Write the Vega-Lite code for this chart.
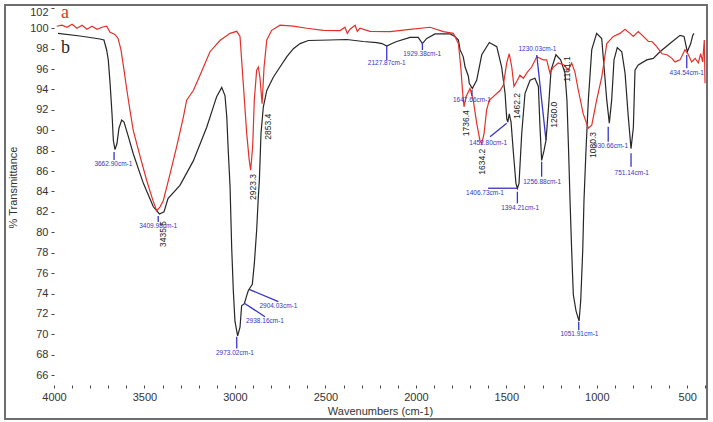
{
  "$schema": "https://vega.github.io/schema/vega-lite/v6.json",
  "width": 702,
  "height": 414,
  "autosize": {"type": "none"},
  "padding": {"left": 5, "top": 5, "right": 6, "bottom": 3},
  "background": "white",
  "config": {"view": {"stroke": "#6e6e6e", "strokeWidth": 2}, "axis": {"labelOverlap": false, "labelSeparation": 0, "labelFlush": false, "labelBound": false}},
  "datasets": {
    "spectra": [
      {"s":"b","wn":3978,"T":99.5},{"s":"b","wn":3856,"T":99.24},{"s":"b","wn":3746,"T":98.95},{"s":"b","wn":3724,"T":98.85},{"s":"b","wn":3709,"T":97.87},{"s":"b","wn":3700,"T":96.9},{"s":"b","wn":3690,"T":94.6},{"s":"b","wn":3679,"T":91.5},{"s":"b","wn":3672,"T":89.0},{"s":"b","wn":3663,"T":88.1},{"s":"b","wn":3652,"T":88.7},{"s":"b","wn":3641,"T":90.2},{"s":"b","wn":3626,"T":91.0},{"s":"b","wn":3613,"T":90.8},{"s":"b","wn":3591,"T":89.5},{"s":"b","wn":3562,"T":87.7},{"s":"b","wn":3506,"T":84.8},{"s":"b","wn":3451,"T":82.5},{"s":"b","wn":3417,"T":81.8},{"s":"b","wn":3392,"T":82.0},{"s":"b","wn":3370,"T":83.3},{"s":"b","wn":3304,"T":84.6},{"s":"b","wn":3230,"T":87.0},{"s":"b","wn":3156,"T":90.3},{"s":"b","wn":3101,"T":93.3},{"s":"b","wn":3073,"T":94.2},{"s":"b","wn":3055,"T":93.4},{"s":"b","wn":3045,"T":91.3},{"s":"b","wn":3037,"T":88.0},{"s":"b","wn":3027,"T":84.5},{"s":"b","wn":3018,"T":78.5},{"s":"b","wn":3009,"T":74.3},{"s":"b","wn":3000,"T":71.3},{"s":"b","wn":2985,"T":69.84},{"s":"b","wn":2972,"T":70.7},{"s":"b","wn":2963,"T":72.8},{"s":"b","wn":2948,"T":73.0},{"s":"b","wn":2935,"T":73.8},{"s":"b","wn":2926,"T":74.3},{"s":"b","wn":2904,"T":74.9},{"s":"b","wn":2893,"T":76.9},{"s":"b","wn":2880,"T":80.2},{"s":"b","wn":2871,"T":83.4},{"s":"b","wn":2865,"T":85.1},{"s":"b","wn":2856,"T":89.7},{"s":"b","wn":2843,"T":92.3},{"s":"b","wn":2824,"T":93.9},{"s":"b","wn":2788,"T":95.2},{"s":"b","wn":2751,"T":96.2},{"s":"b","wn":2714,"T":97.2},{"s":"b","wn":2677,"T":98.0},{"s":"b","wn":2640,"T":98.5},{"s":"b","wn":2594,"T":98.8},{"s":"b","wn":2475,"T":98.85},{"s":"b","wn":2382,"T":98.9},{"s":"b","wn":2291,"T":98.7},{"s":"b","wn":2216,"T":98.6},{"s":"b","wn":2187,"T":98.5},{"s":"b","wn":2161,"T":98.26},{"s":"b","wn":2132,"T":98.5},{"s":"b","wn":2106,"T":98.7},{"s":"b","wn":2032,"T":99.1},{"s":"b","wn":1987,"T":99.1},{"s":"b","wn":1964,"T":98.5},{"s":"b","wn":1940,"T":99.0},{"s":"b","wn":1894,"T":99.44},{"s":"b","wn":1811,"T":99.44},{"s":"b","wn":1784,"T":99.2},{"s":"b","wn":1765,"T":98.85},{"s":"b","wn":1756,"T":97.9},{"s":"b","wn":1738,"T":97.2},{"s":"b","wn":1728,"T":96.2},{"s":"b","wn":1710,"T":95.3},{"s":"b","wn":1705,"T":94.6},{"s":"b","wn":1688,"T":94.1},{"s":"b","wn":1664,"T":94.9},{"s":"b","wn":1636,"T":97.4},{"s":"b","wn":1594,"T":98.6},{"s":"b","wn":1553,"T":98.2},{"s":"b","wn":1526,"T":96.2},{"s":"b","wn":1507,"T":93.6},{"s":"b","wn":1498,"T":91.15},{"s":"b","wn":1492,"T":90.8},{"s":"b","wn":1484,"T":91.6},{"s":"b","wn":1474,"T":90.8},{"s":"b","wn":1462,"T":88.0},{"s":"b","wn":1447,"T":84.8},{"s":"b","wn":1439,"T":84.3},{"s":"b","wn":1430,"T":84.8},{"s":"b","wn":1415,"T":89.7},{"s":"b","wn":1397,"T":93.6},{"s":"b","wn":1369,"T":94.9},{"s":"b","wn":1342,"T":95.1},{"s":"b","wn":1323,"T":94.3},{"s":"b","wn":1314,"T":90.3},{"s":"b","wn":1305,"T":87.05},{"s":"b","wn":1292,"T":88.0},{"s":"b","wn":1281,"T":89.0},{"s":"b","wn":1268,"T":92.0},{"s":"b","wn":1253,"T":95.9},{"s":"b","wn":1226,"T":97.4},{"s":"b","wn":1200,"T":96.9},{"s":"b","wn":1176,"T":95.6},{"s":"b","wn":1165,"T":92.9},{"s":"b","wn":1156,"T":88.0},{"s":"b","wn":1148,"T":83.1},{"s":"b","wn":1139,"T":78.2},{"s":"b","wn":1130,"T":73.9},{"s":"b","wn":1115,"T":72.3},{"s":"b","wn":1098,"T":71.3},{"s":"b","wn":1089,"T":73.3},{"s":"b","wn":1078,"T":78.2},{"s":"b","wn":1071,"T":83.1},{"s":"b","wn":1060,"T":88.0},{"s":"b","wn":1047,"T":92.95},{"s":"b","wn":1028,"T":97.9},{"s":"b","wn":1001,"T":99.5},{"s":"b","wn":973,"T":99.0},{"s":"b","wn":960,"T":96.2},{"s":"b","wn":945,"T":92.95},{"s":"b","wn":931,"T":90.7},{"s":"b","wn":918,"T":92.95},{"s":"b","wn":905,"T":96.9},{"s":"b","wn":887,"T":98.1},{"s":"b","wn":862,"T":97.7},{"s":"b","wn":844,"T":95.6},{"s":"b","wn":826,"T":91.3},{"s":"b","wn":811,"T":88.2},{"s":"b","wn":798,"T":90.3},{"s":"b","wn":789,"T":95.9},{"s":"b","wn":771,"T":96.4},{"s":"b","wn":724,"T":96.9},{"s":"b","wn":688,"T":97.05},{"s":"b","wn":651,"T":97.7},{"s":"b","wn":596,"T":98.5},{"s":"b","wn":540,"T":99.3},{"s":"b","wn":518,"T":99.2},{"s":"b","wn":500,"T":97.7},{"s":"b","wn":481,"T":98.5},{"s":"b","wn":470,"T":99.3},{"s":"b","wn":463,"T":99.5},
      {"s":"a","wn":3985,"T":100.2},{"s":"a","wn":3956,"T":100.3},{"s":"a","wn":3928,"T":100.1},{"s":"a","wn":3900,"T":100.4},{"s":"a","wn":3873,"T":100.0},{"s":"a","wn":3845,"T":100.3},{"s":"a","wn":3818,"T":99.9},{"s":"a","wn":3790,"T":100.2},{"s":"a","wn":3762,"T":99.9},{"s":"a","wn":3735,"T":100.1},{"s":"a","wn":3709,"T":100.2},{"s":"a","wn":3690,"T":99.6},{"s":"a","wn":3663,"T":99.4},{"s":"a","wn":3646,"T":99.0},{"s":"a","wn":3630,"T":97.9},{"s":"a","wn":3613,"T":95.9},{"s":"a","wn":3597,"T":93.9},{"s":"a","wn":3580,"T":91.96},{"s":"a","wn":3562,"T":90.0},{"s":"a","wn":3525,"T":87.5},{"s":"a","wn":3488,"T":85.1},{"s":"a","wn":3453,"T":83.1},{"s":"a","wn":3432,"T":82.1},{"s":"a","wn":3414,"T":82.5},{"s":"a","wn":3396,"T":83.1},{"s":"a","wn":3359,"T":85.7},{"s":"a","wn":3322,"T":88.4},{"s":"a","wn":3285,"T":91.3},{"s":"a","wn":3267,"T":92.95},{"s":"a","wn":3230,"T":93.9},{"s":"a","wn":3193,"T":95.4},{"s":"a","wn":3138,"T":97.7},{"s":"a","wn":3083,"T":98.8},{"s":"a","wn":3027,"T":99.5},{"s":"a","wn":2990,"T":99.7},{"s":"a","wn":2972,"T":99.2},{"s":"a","wn":2954,"T":94.6},{"s":"a","wn":2935,"T":89.7},{"s":"a","wn":2921,"T":87.05},{"s":"a","wn":2913,"T":86.1},{"s":"a","wn":2902,"T":88.4},{"s":"a","wn":2893,"T":92.95},{"s":"a","wn":2880,"T":95.9},{"s":"a","wn":2871,"T":96.2},{"s":"a","wn":2862,"T":95.2},{"s":"a","wn":2850,"T":92.6},{"s":"a","wn":2839,"T":96.2},{"s":"a","wn":2824,"T":98.85},{"s":"a","wn":2797,"T":99.8},{"s":"a","wn":2751,"T":100.3},{"s":"a","wn":2677,"T":100.2},{"s":"a","wn":2603,"T":100.0},{"s":"a","wn":2512,"T":99.8},{"s":"a","wn":2419,"T":99.77},{"s":"a","wn":2392,"T":100.1},{"s":"a","wn":2379,"T":99.5},{"s":"a","wn":2364,"T":99.9},{"s":"a","wn":2336,"T":100.3},{"s":"a","wn":2324,"T":99.7},{"s":"a","wn":2309,"T":100.0},{"s":"a","wn":2254,"T":99.7},{"s":"a","wn":2143,"T":99.67},{"s":"a","wn":2032,"T":99.9},{"s":"a","wn":1922,"T":100.1},{"s":"a","wn":1848,"T":99.67},{"s":"a","wn":1793,"T":99.5},{"s":"a","wn":1765,"T":98.5},{"s":"a","wn":1752,"T":96.2},{"s":"a","wn":1741,"T":93.6},{"s":"a","wn":1734,"T":92.3},{"s":"a","wn":1723,"T":93.3},{"s":"a","wn":1701,"T":94.1},{"s":"a","wn":1683,"T":92.95},{"s":"a","wn":1664,"T":90.7},{"s":"a","wn":1646,"T":89.0},{"s":"a","wn":1636,"T":88.7},{"s":"a","wn":1623,"T":89.7},{"s":"a","wn":1609,"T":92.0},{"s":"a","wn":1594,"T":92.95},{"s":"a","wn":1572,"T":93.3},{"s":"a","wn":1553,"T":93.6},{"s":"a","wn":1535,"T":93.9},{"s":"a","wn":1517,"T":94.4},{"s":"a","wn":1498,"T":96.6},{"s":"a","wn":1484,"T":97.5},{"s":"a","wn":1470,"T":96.2},{"s":"a","wn":1458,"T":94.3},{"s":"a","wn":1439,"T":94.9},{"s":"a","wn":1425,"T":95.4},{"s":"a","wn":1406,"T":95.1},{"s":"a","wn":1384,"T":95.7},{"s":"a","wn":1360,"T":96.2},{"s":"a","wn":1332,"T":97.2},{"s":"a","wn":1296,"T":96.9},{"s":"a","wn":1277,"T":96.9},{"s":"a","wn":1259,"T":95.6},{"s":"a","wn":1240,"T":96.2},{"s":"a","wn":1213,"T":96.6},{"s":"a","wn":1181,"T":96.4},{"s":"a","wn":1158,"T":95.9},{"s":"a","wn":1139,"T":96.6},{"s":"a","wn":1121,"T":95.7},{"s":"a","wn":1102,"T":93.9},{"s":"a","wn":1075,"T":91.6},{"s":"a","wn":1047,"T":90.2},{"s":"a","wn":1028,"T":90.5},{"s":"a","wn":1001,"T":92.95},{"s":"a","wn":973,"T":95.2},{"s":"a","wn":945,"T":98.5},{"s":"a","wn":909,"T":99.2},{"s":"a","wn":872,"T":99.5},{"s":"a","wn":844,"T":99.9},{"s":"a","wn":817,"T":99.5},{"s":"a","wn":798,"T":99.2},{"s":"a","wn":771,"T":99.67},{"s":"a","wn":743,"T":99.2},{"s":"a","wn":715,"T":98.7},{"s":"a","wn":695,"T":98.7},{"s":"a","wn":669,"T":98.2},{"s":"a","wn":640,"T":97.5},{"s":"a","wn":612,"T":97.4},{"s":"a","wn":585,"T":97.05},{"s":"a","wn":568,"T":96.7},{"s":"a","wn":540,"T":96.9},{"s":"a","wn":513,"T":97.9},{"s":"a","wn":494,"T":97.4},{"s":"a","wn":476,"T":96.7},{"s":"a","wn":457,"T":97.05},{"s":"a","wn":439,"T":96.6},{"s":"a","wn":426,"T":97.5},{"s":"a","wn":415,"T":96.7},{"s":"a","wn":406,"T":98.85},{"s":"a","wn":402,"T":94.6}
    ],
    "blueLabels": [
      {"wn":3672,"T":86.67,"text":"3662.90cm-1"},
      {"wn":3424,"T":80.62,"text":"3409.98cm-1"},
      {"wn":3000,"T":68.2,"text":"2973.02cm-1"},
      {"wn":2834,"T":71.33,"text":"2938.16cm-1"},
      {"wn":2760,"T":72.77,"text":"2904.03cm-1"},
      {"wn":2161,"T":96.57,"text":"2127.87cm-1"},
      {"wn":1965,"T":97.48,"text":"1929.38cm-1"},
      {"wn":1690,"T":92.97,"text":"1647.66cm-1"},
      {"wn":1600,"T":88.73,"text":"1452.80cm-1"},
      {"wn":1618,"T":83.82,"text":"1406.73cm-1"},
      {"wn":1424,"T":82.35,"text":"1394.21cm-1"},
      {"wn":1302,"T":84.96,"text":"1256.88cm-1"},
      {"wn":1328,"T":97.94,"text":"1230.03cm-1"},
      {"wn":1096,"T":70.0,"text":"1051.91cm-1"},
      {"wn":922,"T":88.46,"text":"930.66cm-1"},
      {"wn":807,"T":85.84,"text":"751.14cm-1"},
      {"wn":503,"T":95.65,"text":"434.54cm-1"}
    ],
    "blueLines": [
      {"wn":3668,"T":87.87,"wn2":3668,"T2":87.09},
      {"wn":3424,"T":81.6,"wn2":3424,"T2":81.0},
      {"wn":2990,"T":69.76,"wn2":2990,"T2":68.6},
      {"wn":2948,"T":73.04,"wn2":2834,"T2":71.73},
      {"wn":2922,"T":74.41,"wn2":2760,"T2":73.2},
      {"wn":2161,"T":98.26,"wn2":2161,"T2":96.9},
      {"wn":1964,"T":98.53,"wn2":1964,"T2":97.87},
      {"wn":1690,"T":93.95,"wn2":1690,"T2":93.36},
      {"wn":1590,"T":89.37,"wn2":1498,"T2":90.69},
      {"wn":1601,"T":84.32,"wn2":1441,"T2":84.32},
      {"wn":1439,"T":83.98,"wn2":1439,"T2":82.84},
      {"wn":1305,"T":86.92,"wn2":1305,"T2":85.45},
      {"wn":1332,"T":97.38,"wn2":1281,"T2":89.05},
      {"wn":1100,"T":71.24,"wn2":1100,"T2":70.4},
      {"wn":937,"T":90.35,"wn2":937,"T2":88.88},
      {"wn":811,"T":87.75,"wn2":811,"T2":86.43},
      {"wn":503,"T":97.38,"wn2":503,"T2":96.08}
    ],
    "peakLabels": [
      {"wn":3400,"T":79.83,"text":"3435.5"},
      {"wn":2902,"T":84.44,"text":"2923.3"},
      {"wn":2816,"T":90.35,"text":"2853.4"},
      {"wn":1723,"T":90.69,"text":"1736.4"},
      {"wn":1633,"T":86.92,"text":"1634.2"},
      {"wn":1443,"T":92.38,"text":"1462.2"},
      {"wn":1235,"T":91.53,"text":"1260.0"},
      {"wn":1166,"T":96.01,"text":"1161.1"},
      {"wn":1019,"T":88.56,"text":"1080.3"}
    ],
    "series": [
      {"s":"a","wn":3961,"T":101.0},
      {"s":"b","wn":3961,"T":97.58}
    ]
  },
  "layer": [
    {
      "mark": {"type": "rule", "color": "#333333", "strokeWidth": 1},
      "encoding": {
        "x": {"datum": 4000, "type": "quantitative", "scale": {"domain": [391.1, 4270.8], "reverse": true, "nice": false, "zero": false},
          "axis": {"values": [4000,3900,3800,3700,3600,3500,3400,3300,3200,3100,3000,2900,2800,2700,2600,2500,2400,2300,2200,2100,2000,1900,1800,1700,1600,1500,1400,1300,1200,1100,1000,900,800,700,600,500,400],
            "tickCount": 200,
            "labelExpr": "datum.value % 500 == 0 ? datum.label : ''", "format": "d", "labelOverlap": false,
            "offset": -34, "domain": false, "grid": false, "tickSize": 3, "tickColor": "#444444",
            "labelFont": "Liberation Sans", "labelFontSize": 11, "labelColor": "#333333", "labelPadding": 3,
            "title": "Wavenumbers (cm-1)", "titleFont": "Liberation Sans", "titleFontSize": 11, "titleFontWeight": "normal", "titleColor": "#333333",
            "titleX": 375, "titleY": 20, "titleBaseline": "top", "titleAlign": "center"}},
        "x2": {"datum": 391.1},
        "y": {"datum": 65, "type": "quantitative", "scale": {"domain": [61.7, 102.28], "nice": false, "zero": false},
          "axis": {"values": [66,68,70,72,74,76,78,80,82,84,86,88,90,92,94,96,98,100,102],
            "tickCount": 200, "format": "d",
            "labelOverlap": false,
            "offset": -49, "domain": false, "grid": false, "tickSize": 3, "tickColor": "#444444",
            "labelFont": "Liberation Sans", "labelFontSize": 11, "labelColor": "#333333", "labelPadding": 3,
            "labelOffset": {"condition": {"test": "datum.value == 102", "value": 5}, "value": 0},
            "title": "% Transmittance", "titleFont": "Liberation Sans", "titleFontSize": 11, "titleFontWeight": "normal", "titleColor": "#333333",
            "titleX": -41, "titleY": 182, "titleAlign": "center", "titleBaseline": "middle"}}
      }
    },
    {
      "mark": {"type": "rule", "color": "#333333", "strokeWidth": 1, "strokeDash": [1, 1]},
      "encoding": {
        "x": {"datum": 4000, "type": "quantitative"},
        "y": {"datum": 65, "type": "quantitative"},
        "y2": {"datum": 102.28}
      }
    },
    {
      "data": {"name": "spectra"},
      "mark": {"type": "line", "strokeWidth": 1.2, "interpolate": "linear"},
      "encoding": {
        "x": {"field": "wn", "type": "quantitative"},
        "y": {"field": "T", "type": "quantitative"},
        "color": {"field": "s", "type": "nominal", "scale": {"domain": ["a", "b"], "range": ["#e2302b", "#262626"]}, "legend": null},
        "detail": {"field": "s"}
      }
    },
    {
      "data": {"name": "blueLines"},
      "mark": {"type": "rule", "color": "#3535c8", "strokeWidth": 1.3},
      "encoding": {
        "x": {"field": "wn", "type": "quantitative"},
        "y": {"field": "T", "type": "quantitative"},
        "x2": {"field": "wn2"},
        "y2": {"field": "T2"}
      }
    },
    {
      "data": {"name": "blueLabels"},
      "mark": {"type": "text", "color": "#3535c8", "font": "Liberation Sans", "fontSize": 6.5, "align": "center", "baseline": "middle"},
      "encoding": {
        "x": {"field": "wn", "type": "quantitative"},
        "y": {"field": "T", "type": "quantitative"},
        "text": {"field": "text"}
      }
    },
    {
      "data": {"name": "peakLabels"},
      "mark": {"type": "text", "color": "#222222", "font": "Liberation Sans", "fontSize": 8.5, "angle": 270, "align": "center", "baseline": "middle"},
      "encoding": {
        "x": {"field": "wn", "type": "quantitative"},
        "y": {"field": "T", "type": "quantitative"},
        "text": {"field": "text"}
      }
    },
    {
      "data": {"name": "series"},
      "mark": {"type": "text", "font": "Liberation Serif", "fontSize": 18, "align": "left", "baseline": "alphabetic"},
      "encoding": {
        "x": {"field": "wn", "type": "quantitative"},
        "y": {"field": "T", "type": "quantitative"},
        "text": {"field": "s"},
        "color": {"field": "s", "type": "nominal", "scale": {"domain": ["a", "b"], "range": ["#e2302b", "#262626"]}, "legend": null}
      }
    }
  ]
}
